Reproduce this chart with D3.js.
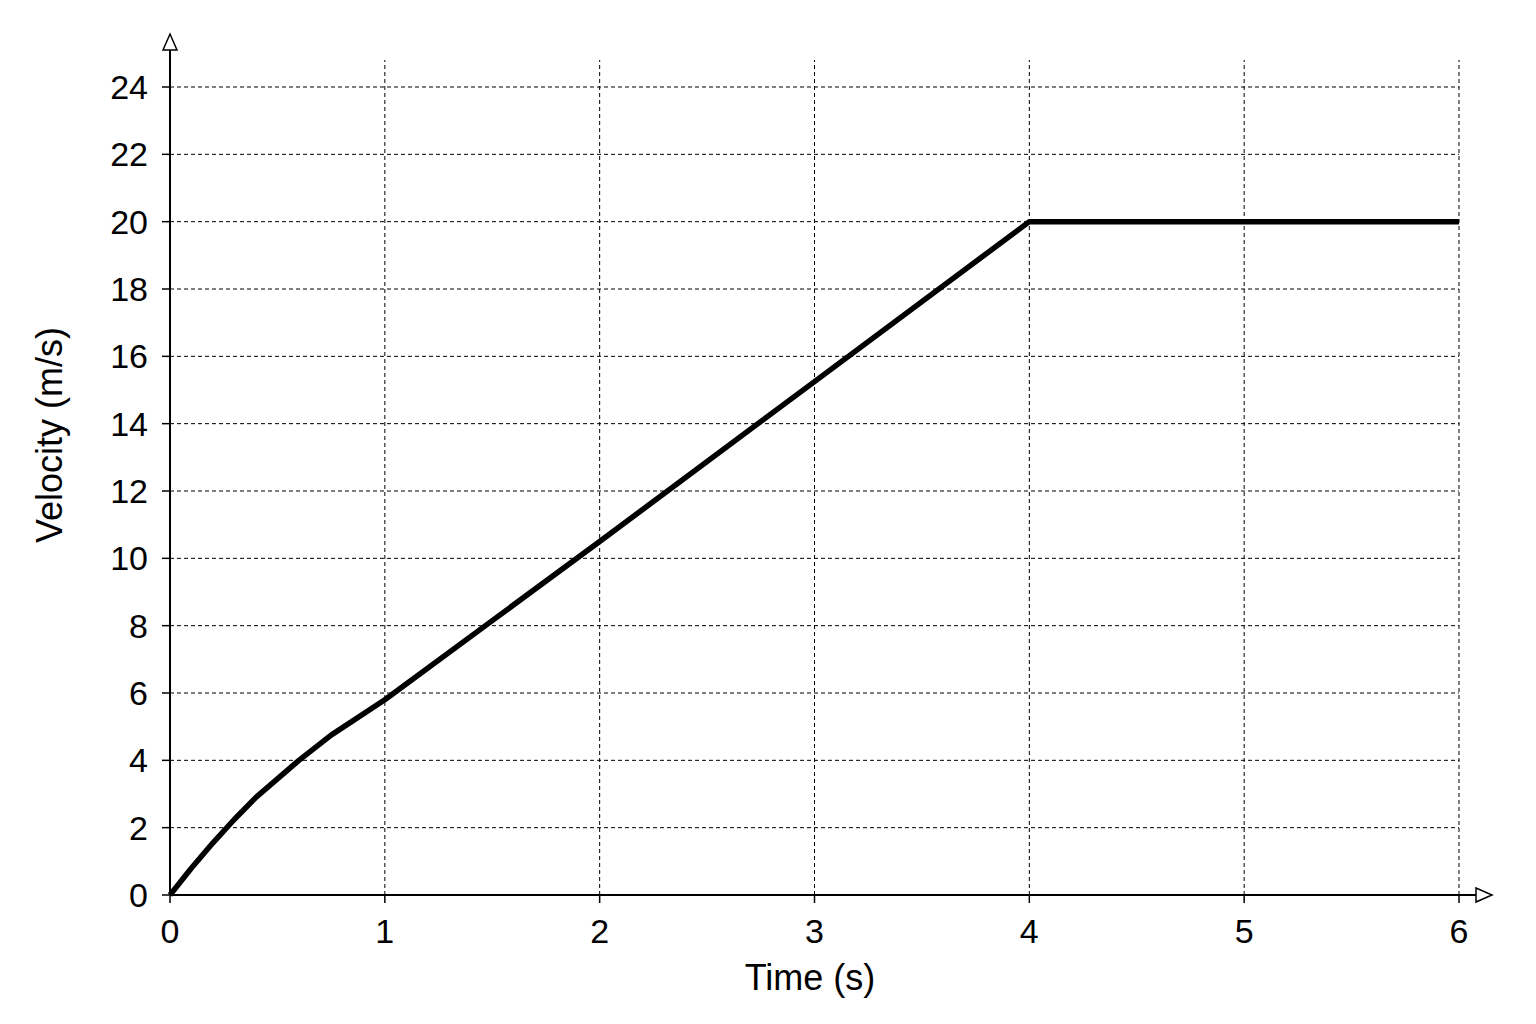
<!DOCTYPE html>
<html><head><meta charset="utf-8">
<script src="https://cdn.jsdelivr.net/npm/d3@7"></script>
<style>body{margin:0;background:#fff}svg{display:block}</style>
</head><body>
<svg id="c" width="1536" height="1024"></svg>
<script>
const xTicks=[0,1,2,3,4,5,6];
const yTicks=[0,2,4,6,8,10,12,14,16,18,20,22,24];
const timeS=[0,0.1,0.2,0.3,0.4,0.5,0.6,0.75,1,1.5,2,3,4,5,6];
const velocity=[0,0.8,1.55,2.25,2.9,3.45,4.0,4.75,5.8,8.15,10.5,15.25,20,20,20];

const svg=d3.select("#c");
const x=d3.scaleLinear().domain([0,6]).range([170,1459]);
const y=d3.scaleLinear().domain([0,24]).range([895,87]);
const font="Liberation Sans, Arial, sans-serif";

svg.append("g").selectAll("line").data(yTicks.slice(1)).join("line")
 .attr("x1",x(0)).attr("x2",x(6)).attr("y1",d=>y(d)).attr("y2",d=>y(d))
 .attr("stroke","#000").attr("stroke-width",1).attr("stroke-dasharray","4,3");
svg.append("g").selectAll("line").data(xTicks.slice(1)).join("line")
 .attr("x1",d=>x(d)).attr("x2",d=>x(d)).attr("y1",y(0)).attr("y2",60)
 .attr("stroke","#000").attr("stroke-width",1).attr("stroke-dasharray","4,3");

svg.append("line").attr("x1",x(0)).attr("x2",1478).attr("y1",y(0)).attr("y2",y(0)).attr("stroke","#000").attr("stroke-width",2);
svg.append("line").attr("x1",x(0)).attr("x2",x(0)).attr("y1",y(0)).attr("y2",50).attr("stroke","#000").attr("stroke-width",2);
svg.append("path").attr("d",`M${x(0)-7},50 L${x(0)},34 L${x(0)+7},50 Z`).attr("fill","#fff").attr("stroke","#000").attr("stroke-width",1.5);
svg.append("path").attr("d",`M1476,${y(0)-7} L1492,${y(0)} L1476,${y(0)+7} Z`).attr("fill","#fff").attr("stroke","#000").attr("stroke-width",1.5);

svg.append("g").selectAll("line").data(yTicks).join("line")
 .attr("x1",x(0)-8).attr("x2",x(0)).attr("y1",d=>y(d)).attr("y2",d=>y(d)).attr("stroke","#000").attr("stroke-width",1.5);
svg.append("g").selectAll("line").data(xTicks).join("line")
 .attr("x1",d=>x(d)).attr("x2",d=>x(d)).attr("y1",y(0)).attr("y2",y(0)+8).attr("stroke","#000").attr("stroke-width",1.5);

svg.append("g").selectAll("text").data(yTicks).join("text")
 .attr("x",x(0)-22).attr("y",d=>y(d)).attr("dy","0.35em").attr("text-anchor","end")
 .attr("font-family",font).attr("font-size",34).text(d=>d);
svg.append("g").selectAll("text").data(xTicks).join("text")
 .attr("x",d=>x(d)).attr("y",y(0)+48).attr("text-anchor","middle")
 .attr("font-family",font).attr("font-size",34).text(d=>d);
svg.append("text").attr("x",810).attr("y",990).attr("text-anchor","middle")
 .attr("font-family",font).attr("font-size",36).text("Time (s)");
svg.append("text").attr("transform","translate(62,435) rotate(-90)").attr("text-anchor","middle")
 .attr("font-family",font).attr("font-size",36).text("Velocity (m/s)");

const pts=timeS.map((t,i)=>[t,velocity[i]]);
svg.append("path").datum(pts)
 .attr("d",d3.line().x(d=>x(d[0])).y(d=>y(d[1])).curve(d3.curveLinear))
 .attr("fill","none").attr("stroke","#000").attr("stroke-width",5.5).attr("stroke-linejoin","round");
</script>
</body></html>
